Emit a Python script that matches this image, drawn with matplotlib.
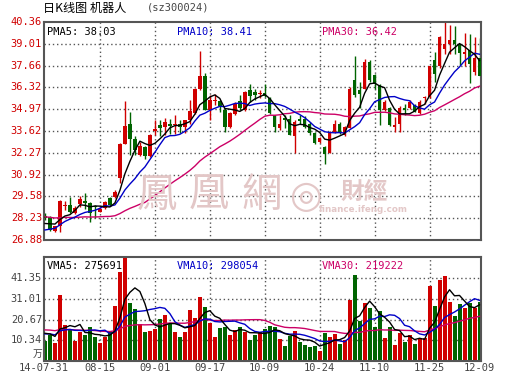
import numpy as np
import pandas as pd
import matplotlib
matplotlib.use('Agg')
import matplotlib.pyplot as plt
from matplotlib.transforms import offset_copy

# daily K-line data, 2014-07-31 .. 2014-12-09 (88 trading days)
opens = [28.39, 28.33, 27.41, 27.72, 29.00, 29.05, 28.58, 29.11, 29.30, 29.15,
         28.98, 28.64, 28.85, 29.46, 29.56, 30.73, 32.81, 34.04, 33.10, 32.13,
         32.64, 32.07, 33.60, 34.00, 33.88, 34.08, 33.97, 34.08, 33.84, 34.29,
         34.74, 36.24, 37.00, 34.94, 35.45, 35.48, 34.94, 33.88, 34.66, 35.48,
         34.90, 36.13, 36.03, 35.90, 35.97, 35.68, 34.60, 33.78, 34.45, 34.35,
         33.34, 34.35, 34.37, 34.08, 33.50, 32.93, 32.64, 32.27, 33.57, 34.08,
         33.36, 33.78, 36.80, 36.13, 36.24, 37.90, 37.10, 36.44, 34.90, 35.07,
         33.88, 34.04, 35.07, 35.07, 35.20, 34.74, 35.65, 35.72, 38.03, 37.62,
         38.70, 39.01, 39.26, 39.01, 38.37, 38.60, 37.27, 38.15]
highs = [28.54, 28.37, 27.74, 29.36, 29.30, 29.56, 29.00, 29.60, 29.77, 29.20,
         29.05, 28.90, 29.30, 29.56, 29.95, 32.85, 35.50, 34.80, 33.30, 32.95,
         32.68, 33.46, 34.30, 34.30, 34.45, 34.39, 34.60, 34.33, 34.33, 35.52,
         36.30, 38.56, 37.20, 35.83, 35.90, 35.52, 35.07, 34.80, 35.42, 35.83,
         36.07, 36.55, 36.24, 36.13, 36.50, 35.72, 34.60, 34.60, 34.60, 34.60,
         34.29, 34.60, 34.55, 34.18, 33.57, 33.26, 32.68, 33.60, 34.29, 34.18,
         33.92, 36.34, 38.23, 36.65, 38.08, 38.00, 37.16, 36.55, 35.52, 35.10,
         34.49, 35.15, 35.27, 35.52, 35.31, 35.56, 35.76, 37.65, 38.50, 39.50,
         40.35, 40.20, 40.14, 39.01, 39.66, 39.60, 39.42, 39.40]
lows = [28.13, 27.41, 27.38, 27.35, 28.74, 28.58, 28.50, 28.90, 28.78, 28.00,
        28.27, 28.60, 28.80, 29.00, 29.50, 30.39, 32.80, 32.13, 32.13, 32.07,
        31.90, 32.03, 33.40, 33.30, 33.36, 33.46, 33.46, 33.50, 33.50, 34.08,
        34.66, 36.14, 34.90, 34.29, 35.20, 34.80, 33.57, 33.80, 34.60, 34.94,
        34.86, 35.42, 35.52, 35.65, 35.70, 34.70, 33.57, 33.67, 33.78, 33.36,
        32.27, 34.08, 33.78, 33.36, 32.81, 32.89, 31.58, 32.25, 33.50, 33.46,
        33.30, 33.78, 35.72, 35.07, 36.20, 36.67, 36.24, 33.98, 34.84, 33.92,
        33.57, 33.57, 34.60, 34.95, 34.80, 34.70, 35.31, 35.68, 36.65, 37.50,
        38.39, 38.39, 38.39, 37.68, 37.62, 36.59, 37.06, 37.00]
closes = [28.23, 27.51, 27.72, 29.30, 29.06, 28.64, 28.85, 29.42, 29.15, 28.58,
          28.92, 28.80, 29.26, 29.05, 29.83, 32.81, 33.92, 33.10, 32.44, 32.68,
          32.07, 33.36, 33.75, 33.80, 34.20, 33.96, 34.05, 33.84, 34.29, 34.86,
          36.24, 37.00, 34.94, 35.56, 35.52, 35.15, 33.88, 34.74, 35.31, 35.07,
          36.03, 35.76, 35.83, 36.00, 35.80, 34.74, 33.84, 34.04, 34.29, 33.40,
          34.18, 34.25, 33.88, 33.47, 32.89, 33.16, 32.19, 33.57, 34.08, 33.57,
          33.88, 36.24, 35.83, 35.93, 37.88, 36.80, 36.50, 34.90, 35.41, 33.98,
          34.02, 35.07, 34.94, 35.41, 34.80, 35.41, 35.75, 37.62, 37.12, 39.46,
          39.01, 39.26, 38.97, 38.44, 38.49, 37.78, 38.15, 37.00]
# volume, unit 万
volumes = [10.1, 13.0, 8.8, 33.0, 18.0, 15.5, 10.0, 14.6, 13.0, 17.1,
           11.8, 8.8, 11.8, 14.9, 27.5, 44.6, 55.0, 29.1, 26.0, 18.5,
           14.5, 14.9, 16.0, 21.0, 23.0, 18.5, 14.6, 12.0, 14.6, 25.5,
           21.6, 32.1, 27.1, 19.1, 11.8, 16.3, 16.8, 13.0, 15.5, 16.8,
           14.6, 10.6, 13.0, 14.6, 15.8, 17.5, 16.8, 10.8, 7.5, 12.5,
           15.0, 9.7, 8.0, 6.8, 7.5, 5.2, 14.2, 11.8, 13.5, 8.5,
           10.5, 30.5, 43.0, 20.1, 29.1, 26.5, 16.7, 25.0, 11.7, 17.1,
           8.0, 14.2, 9.7, 13.0, 8.5, 11.3, 11.3, 37.6, 27.6, 40.5,
           42.6, 29.3, 22.5, 28.5, 26.6, 28.8, 26.6, 29.6]

# closes / volumes before 07-31 (only used to start the moving averages)
hist_close = [28.6, 28.9, 28.7, 28.5, 28.8, 29.0, 28.7, 28.6, 28.9, 28.8,
              28.5, 28.7, 28.9, 28.6, 28.8, 28.7, 28.6, 28.8, 28.7, 28.7,
              27.0, 27.2, 27.1, 27.0, 27.2, 27.6, 27.8, 27.9, 27.97]
hist_vol = [16.0, 17.5, 15.8, 16.9, 16.2, 17.0, 16.4, 15.9, 16.8, 16.3,
            16.6, 16.1, 17.2, 16.5, 16.0, 16.9, 16.4, 16.7, 16.2, 16.6,
            13.0, 13.5, 13.2, 12.9, 13.4, 14.5, 15.0, 14.6, 14.8]

# values printed in the legends of the reference
pma_text = ['PMA5: 38.03', 'PMA10: 38.41', 'PMA30: 36.42']
vma_text = ['VMA5: 275691', 'VMA10: 298054', 'VMA30: 219222']

price_ticks = [26.88, 28.23, 29.58, 30.92, 32.27, 33.62, 34.97, 36.32, 37.66, 39.01, 40.36]
vol_ticks = [10.34, 20.67, 31.01, 41.35]
vol_top = 51.69
date_pos = [-0.2, 11, 22, 33, 44, 55, 66, 77, 87]
date_labels = ['14-07-31', '08-15', '09-01', '09-17', '10-09', '10-24', '11-10', '11-25', '12-09']

RED = '#d00000'
GREEN = '#006400'
BLUE = '#0000c8'
MAG = '#cc0066'
GRID = '#555555'
TXT = '#444444'
MONO = 'DejaVu Sans Mono'
FS = 7.5

close_all = pd.Series(hist_close + closes)
vol_all = pd.Series(hist_vol + volumes)
n_hist = len(hist_close)
ma5 = close_all.rolling(5).mean().values[n_hist:]
ma10 = close_all.rolling(10).mean().values[n_hist:]
ma30 = close_all.rolling(30).mean().values[n_hist:]
vma5 = vol_all.rolling(5).mean().values[n_hist:]
vma10 = vol_all.rolling(10).mean().values[n_hist:]
vma30 = vol_all.rolling(30).mean().values[n_hist:]

x = np.arange(len(closes))
colors = [RED if c >= o else GREEN for o, c in zip(opens, closes)]

fig = plt.figure(figsize=(5.30, 3.91), dpi=100)
W, H = 530.0, 391.0
ax = fig.add_axes([44 / W, 1 - 240 / H, 437 / W, 218 / H])
axv = fig.add_axes([44 / W, 1 - 361 / H, 437 / W, 103.7 / H])

# watermark
wm = (0.89, 0.78, 0.78)
for cx, ch in zip([157, 209, 262], '鳳凰網'):
    fig.text(cx / W, 1 - 195 / H, ch, fontsize=29, color=wm, ha='center', va='center',
             family='Noto Sans CJK TC', zorder=0)
fig.text(306 / W, 1 - 197 / H, '◎', fontsize=27, color=wm, ha='center', va='center', zorder=0)
fig.text(364 / W, 1 - 192 / H, '財經', fontsize=17, color=wm, ha='center', va='center',
         family='Noto Sans CJK TC', fontweight='bold', zorder=0)
fig.text(363 / W, 1 - 210 / H, 'finance.ifeng.com', fontsize=6.3, color=wm, ha='center',
         va='center', fontweight='bold', zorder=0)

for a in (ax, axv):
    a.set_facecolor('none')
    a.set_xlim(-0.2, 87.3)
    for s in a.spines.values():
        s.set_color('#555555')
        s.set_linewidth(1.5)
    a.set_xticks([])
    a.set_yticks([])
    for p in date_pos[1:-1]:
        a.axvline(p, color=GRID, lw=1, ls=(0, (1, 2)), zorder=1)

# price panel
ax.set_ylim(price_ticks[0], price_ticks[-1])
for t in price_ticks[1:-1]:
    ax.axhline(t, color=GRID, lw=1, ls=(0, (1, 2)), zorder=1)
ax.vlines(x, lows, highs, colors=colors, lw=1, zorder=2)
body_low = np.minimum(opens, closes)
body_h = np.maximum(np.abs(np.array(closes) - np.array(opens)), 0.04)
ax.bar(x, body_h, bottom=body_low, width=0.7, color=colors, zorder=3)
ax.plot(x, ma30, color=MAG, lw=1, zorder=4)
ax.plot(x, ma10, color=BLUE, lw=1, zorder=4)
ax.plot(x, ma5, color='black', lw=1, zorder=4)
ytr = offset_copy(ax.get_yaxis_transform(), fig=fig, x=-2, units='dots')
for t in price_ticks:
    ax.text(0, t, f'{t:.2f}', transform=ytr, ha='right', va='center', color=RED,
            fontsize=FS, family=MONO)
for xp, s, c in zip([47, 177, 322], pma_text, ['black', BLUE, MAG]):
    fig.text(xp / W, 1 - 32 / H, s, color=c, fontsize=FS, family=MONO, va='center')

# volume panel
axv.set_ylim(0, vol_top)
for t in vol_ticks:
    axv.axhline(t, color=GRID, lw=1, ls=(0, (1, 2)), zorder=1)
axv.bar(x, volumes, width=0.8, color=colors, zorder=2)
axv.plot(x, vma30, color=MAG, lw=1, zorder=4)
axv.plot(x, vma10, color=BLUE, lw=1, zorder=4)
axv.plot(x, vma5, color='black', lw=1, zorder=4)
vtr = offset_copy(axv.get_yaxis_transform(), fig=fig, x=-2, units='dots')
for t in vol_ticks:
    axv.text(0, t, f'{t:.2f}', transform=vtr, ha='right', va='center', color=TXT,
             fontsize=FS, family=MONO)
axv.text(0, 3.5, '万', transform=vtr, ha='right', va='center', color=TXT,
         fontsize=7, family='Noto Sans CJK SC')
for xp, s, c in zip([47, 177, 322], vma_text, ['black', BLUE, MAG]):
    fig.text(xp / W, 1 - 266 / H, s, color=c, fontsize=FS, family=MONO, va='center')
for p, lab in zip(date_pos, date_labels):
    fig.text((44 + (p + 0.2) / 87.5 * 437) / W, 1 - 368 / H, lab, ha='center', va='center',
             color=TXT, fontsize=FS, family=MONO)

# title
fig.text(43 / W, 1 - 8 / H, '日K线图 机器人', fontsize=8.7, family='Noto Sans CJK SC', va='center')
fig.text(147 / W, 1 - 8 / H, '(sz300024)', fontsize=FS, family=MONO, va='center', color=TXT)

fig.savefig('out.png', dpi=100, facecolor='white')
